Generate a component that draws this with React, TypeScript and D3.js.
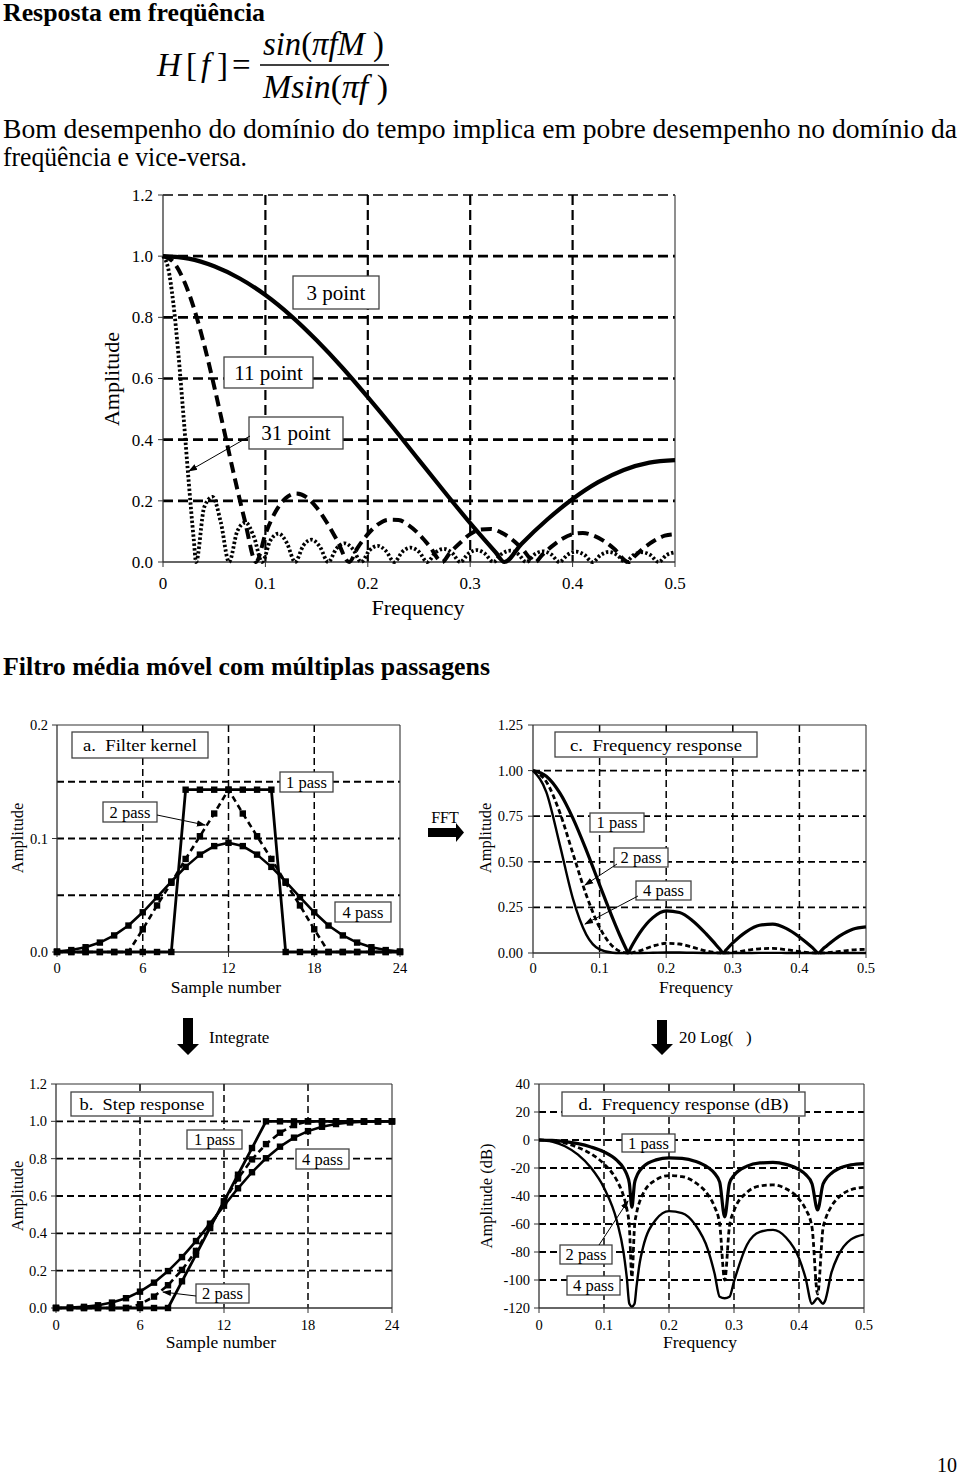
import React from 'react';
import * as d3 from 'd3';

const SERIF = "'Liberation Serif', 'Times New Roman', Times, serif";

// ---------- Top chart: moving average frequency response ----------
const topXTicks = [0, 0.1, 0.2, 0.3, 0.4, 0.5];
const topYTicks = [0, 0.2, 0.4, 0.6, 0.8, 1.0, 1.2];
const topXGrid = [0.1, 0.2, 0.3, 0.4];
const topYGrid = [0.2, 0.4, 0.6, 0.8, 1.0, 1.2];

const freq3 = [0, 0.025, 0.05, 0.075, 0.1, 0.125, 0.15, 0.175, 0.2, 0.225, 0.25, 0.275, 0.3, 0.325, 0.3333, 0.35, 0.375, 0.4, 0.425, 0.45, 0.475, 0.5];
const amp3 = [1, 0.992, 0.967, 0.927, 0.873, 0.805, 0.725, 0.636, 0.539, 0.438, 0.333, 0.229, 0.127, 0.031, 0, 0.059, 0.138, 0.206, 0.261, 0.301, 0.325, 0.333];

const freq11 = [0, 0.01, 0.02, 0.03, 0.04, 0.05, 0.06, 0.07, 0.08, 0.0909, 0.1, 0.11, 0.12, 0.13, 0.14, 0.15, 0.16, 0.17, 0.1818, 0.19, 0.2, 0.21, 0.22, 0.23, 0.24, 0.25, 0.26, 0.2727, 0.28, 0.29, 0.3, 0.31, 0.32, 0.33, 0.34, 0.35, 0.3636, 0.37, 0.38, 0.39, 0.4, 0.41, 0.42, 0.43, 0.44, 0.4545, 0.46, 0.47, 0.48, 0.49, 0.5];
const amp11 = [1, 0.981, 0.923, 0.832, 0.713, 0.574, 0.425, 0.275, 0.134, 0, 0.091, 0.165, 0.209, 0.224, 0.212, 0.178, 0.129, 0.071, 0, 0.046, 0.091, 0.123, 0.138, 0.137, 0.12, 0.091, 0.053, 0, 0.029, 0.062, 0.091, 0.106, 0.108, 0.097, 0.076, 0.046, 0, 0.022, 0.052, 0.076, 0.091, 0.095, 0.087, 0.07, 0.045, 0, 0.017, 0.047, 0.07, 0.086, 0.091];

const freq31 = [0, 0.005, 0.01, 0.015, 0.02, 0.025, 0.03, 0.0323,
  0.0403, 0.0484, 0.0565, 0.0645,
  0.0726, 0.0806, 0.0887, 0.0968,
  0.1048, 0.1129, 0.121, 0.129,
  0.1371, 0.1452, 0.1532, 0.1613,
  0.1694, 0.1774, 0.1855, 0.1935,
  0.2016, 0.2097, 0.2177, 0.2258,
  0.2339, 0.2419, 0.25, 0.2581,
  0.2661, 0.2742, 0.2823, 0.2903,
  0.2984, 0.3065, 0.3145, 0.3226,
  0.3306, 0.3387, 0.3468, 0.3548,
  0.3629, 0.371, 0.379, 0.3871,
  0.3952, 0.4032, 0.4113, 0.4194,
  0.4274, 0.4355, 0.4435, 0.4516,
  0.4597, 0.4677, 0.4758, 0.4839,
  0.4919, 0.5];
const amp31 = [1, 0.961, 0.849, 0.681, 0.478, 0.267, 0.075, 0,
  0.18, 0.213, 0.129, 0,
  0.101, 0.129, 0.083, 0,
  0.07, 0.093, 0.062, 0,
  0.054, 0.073, 0.05, 0,
  0.044, 0.061, 0.042, 0,
  0.038, 0.053, 0.036, 0,
  0.034, 0.047, 0.033, 0,
  0.031, 0.043, 0.03, 0,
  0.028, 0.039, 0.027, 0,
  0.026, 0.037, 0.026, 0,
  0.025, 0.035, 0.025, 0,
  0.024, 0.034, 0.024, 0,
  0.023, 0.033, 0.023, 0,
  0.023, 0.032, 0.023, 0,
  0.023, 0.032];

// ---------- a. Filter kernel / b. Step response ----------
const samples = [0, 1, 2, 3, 4, 5, 6, 7, 8, 9, 10, 11, 12, 13, 14, 15, 16, 17, 18, 19, 20, 21, 22, 23, 24];
const sampleTicks = [0, 6, 12, 18, 24];
const sampleGrid = [6, 12, 18];
const kernel1 = [0, 0, 0, 0, 0, 0, 0, 0, 0, 0.143, 0.143, 0.143, 0.143, 0.143, 0.143, 0.143, 0, 0, 0, 0, 0, 0, 0, 0, 0];
const kernel2 = [0, 0, 0, 0, 0, 0, 0.02, 0.041, 0.061, 0.082, 0.102, 0.122, 0.143, 0.122, 0.102, 0.082, 0.061, 0.041, 0.02, 0, 0, 0, 0, 0, 0];
const kernel4 = [0.0004, 0.0017, 0.0042, 0.0083, 0.0146, 0.0233, 0.035, 0.0483, 0.0621, 0.075, 0.0858, 0.0933, 0.0962, 0.0933, 0.0858, 0.075, 0.0621, 0.0483, 0.035, 0.0233, 0.0146, 0.0083, 0.0042, 0.0017, 0.0004];
const kernelYTicks = [0, 0.1, 0.2];
const kernelYGrid = [0.05, 0.1, 0.15];

const step1 = [0, 0, 0, 0, 0, 0, 0, 0, 0, 0.143, 0.286, 0.429, 0.571, 0.714, 0.857, 1, 1, 1, 1, 1, 1, 1, 1, 1, 1];
const step2 = [0, 0, 0, 0, 0, 0, 0.02, 0.061, 0.122, 0.204, 0.306, 0.429, 0.571, 0.694, 0.796, 0.878, 0.939, 0.98, 1, 1, 1, 1, 1, 1, 1];
const step4 = [0.0004, 0.0021, 0.0062, 0.0146, 0.0291, 0.0525, 0.0875, 0.1358, 0.1978, 0.2728, 0.3586, 0.4519, 0.5481, 0.6414, 0.7272, 0.8022, 0.8642, 0.9125, 0.9475, 0.9709, 0.9854, 0.9938, 0.9979, 0.9996, 1];
const stepYTicks = [0, 0.2, 0.4, 0.6, 0.8, 1.0, 1.2];
const stepYGrid = [0.2, 0.4, 0.6, 0.8, 1.0];

// ---------- c. Frequency response ----------
const freqTicks = [0, 0.1, 0.2, 0.3, 0.4, 0.5];
const freqGrid = [0.1, 0.2, 0.3, 0.4];
const freqC = [0, 0.02, 0.04, 0.06, 0.08, 0.1, 0.12, 0.13, 0.14, 0.1429, 0.146, 0.15, 0.16, 0.18, 0.2, 0.22, 0.24, 0.26, 0.27, 0.28, 0.2857, 0.29, 0.3, 0.32, 0.34, 0.36, 0.38, 0.4, 0.41, 0.42, 0.4286, 0.435, 0.44, 0.46, 0.48, 0.5];
const pass1 = [1, 0.969, 0.879, 0.738, 0.564, 0.374, 0.187, 0.1, 0.021, 0, 0.022, 0.049, 0.109, 0.194, 0.231, 0.222, 0.176, 0.105, 0.065, 0.023, 0, 0.017, 0.055, 0.116, 0.152, 0.158, 0.135, 0.088, 0.059, 0.028, 0, 0.021, 0.036, 0.092, 0.13, 0.143];
const pass2 = [1, 0.939, 0.773, 0.545, 0.318, 0.14, 0.035, 0.01, 0.0004, 0, 0.0005, 0.0024, 0.0119, 0.0376, 0.0534, 0.0493, 0.031, 0.011, 0.0042, 0.0005, 0, 0.0003, 0.003, 0.0135, 0.0231, 0.025, 0.0182, 0.0077, 0.0035, 0.0008, 0, 0.0004, 0.0013, 0.0085, 0.0169, 0.0204];
const pass4 = [1, 0.882, 0.597, 0.297, 0.101, 0.0196, 0.0012, 0.0001, 0, 0, 0, 0, 0.0001, 0.0014, 0.0029, 0.0024, 0.001, 0.0001, 0, 0, 0, 0, 0, 0.0002, 0.0005, 0.0006, 0.0003, 0.0001, 0, 0, 0, 0, 0, 0, 0.0001, 0.0002];
const respYTicks = [0, 0.25, 0.5, 0.75, 1.0, 1.25];
const respYGrid = [0.25, 0.5, 0.75, 1.0];

// ---------- d. Frequency response (dB) ----------
const freqD = [0, 0.02, 0.04, 0.06, 0.08, 0.1, 0.12, 0.13, 0.135, 0.139, 0.1429, 0.147, 0.15, 0.155, 0.16, 0.18, 0.2, 0.22, 0.24, 0.26, 0.27, 0.278, 0.2857, 0.293, 0.3, 0.32, 0.34, 0.36, 0.38, 0.4, 0.41, 0.42, 0.4286, 0.437, 0.44, 0.45, 0.46, 0.48, 0.5];
const db1 = [0, -0.3, -1.1, -2.6, -5.0, -8.5, -14.6, -20.0, -24.5, -30.9, -48, -30.7, -26.2, -21.9, -19.2, -14.2, -12.7, -13.1, -15.1, -19.6, -23.8, -30.1, -55, -30.9, -25.3, -18.7, -16.4, -16.0, -17.4, -21.1, -24.6, -31.2, -50, -31.4, -28.8, -23.7, -20.7, -17.8, -16.9];
const db2 = [0, -0.6, -2.2, -5.3, -9.9, -17.1, -29.1, -40.0, -49.0, -61.8, -98, -61.4, -52.4, -43.8, -38.4, -28.4, -25.4, -26.1, -30.2, -39.2, -47.6, -60.2, -100, -61.8, -50.6, -37.4, -32.8, -32.1, -34.8, -42.2, -49.2, -62.4, -110, -62.8, -57.6, -47.3, -41.4, -35.5, -33.8];
const db4 = [0, -1.1, -4.5, -10.5, -19.9, -34.2, -58.2, -80.0, -98.0, -117, -119, -117, -104.8, -87.5, -76.8, -56.8, -50.8, -52.2, -60.3, -78.4, -95.2, -112, -113, -112, -101, -74.8, -65.6, -64.2, -69.6, -84.4, -98.4, -117, -113, -117, -115, -94.6, -82.8, -71.0, -67.6];
const dbYTicks = [-120, -100, -80, -60, -40, -20, 0, 20, 40];
const dbYGrid = [-100, -80, -60, -40, -20, 0, 20];

type Series = {
  x: number[];
  y: number[];
  width: number;
  dash?: string;
  markers?: boolean;
  smooth?: boolean;
};

type ChartProps = {
  left: number; right: number; top: number; bottom: number;
  xDomain: [number, number]; yDomain: [number, number];
  xTicks: number[]; yTicks: number[];
  xFmt: (v: number) => string; yFmt: (v: number) => string;
  xGrid: number[]; yGrid: number[];
  gridW: number; gridWV: number; gridDash: string;
  tickFont: number; xTickY: number; yTickX: number;
  xTitle: string; xTitlePos: [number, number];
  yTitle: string; yTitlePos: [number, number];
  titleFont: number; yTitleFont: number;
  frameTop: boolean;
  series: Series[];
};

function Chart(p: ChartProps) {
  const xs = d3.scaleLinear().domain(p.xDomain).range([p.left, p.right]);
  const ys = d3.scaleLinear().domain(p.yDomain).range([p.bottom, p.top]);
  const frame = '#333';
  return (
    <g>
      {p.yGrid.map((v) => (
        <line key={'hy' + v} x1={p.left} x2={p.right} y1={ys(v)} y2={ys(v)} stroke="#000"
          strokeWidth={v === p.yDomain[1] ? 1.4 : p.gridW} strokeDasharray={p.gridDash} />
      ))}
      {p.xGrid.map((v) => (
        <line key={'vx' + v} x1={xs(v)} x2={xs(v)} y1={p.top} y2={p.bottom} stroke="#000"
          strokeWidth={p.gridWV} strokeDasharray={p.gridDash} />
      ))}
      <line x1={p.left} x2={p.left} y1={p.top} y2={p.bottom} stroke={frame} strokeWidth={1.3} />
      <line x1={p.right} x2={p.right} y1={p.top} y2={p.bottom} stroke={frame} strokeWidth={1.1} />
      <line x1={p.left} x2={p.right} y1={p.bottom} y2={p.bottom} stroke={frame} strokeWidth={1.3} />
      {p.frameTop && <line x1={p.left} x2={p.right} y1={p.top} y2={p.top} stroke={frame} strokeWidth={1.1} />}
      {p.yTicks.map((v) => (
        <g key={'yt' + v}>
          <line x1={p.left - 5} x2={p.left} y1={ys(v)} y2={ys(v)} stroke={frame} strokeWidth={1} />
          <text x={p.yTickX} y={ys(v)} dy="0.35em" textAnchor="end" fontSize={p.tickFont}>{p.yFmt(v)}</text>
        </g>
      ))}
      {p.xTicks.map((v) => (
        <g key={'xt' + v}>
          <line x1={xs(v)} x2={xs(v)} y1={p.bottom} y2={p.bottom + 5} stroke={frame} strokeWidth={1} />
          <text x={xs(v)} y={p.xTickY} dy="0.35em" textAnchor="middle" fontSize={p.tickFont}>{p.xFmt(v)}</text>
        </g>
      ))}
      <text x={p.xTitlePos[0]} y={p.xTitlePos[1]} dy="0.35em" textAnchor="middle" fontSize={p.titleFont}>{p.xTitle}</text>
      <text transform={`translate(${p.yTitlePos[0]},${p.yTitlePos[1]}) rotate(-90)`} dy="0.35em" textAnchor="middle" fontSize={p.yTitleFont}>{p.yTitle}</text>
      {p.series.map((s, si) => {
        const line = d3.line<number>()
          .x((_, i) => xs(s.x[i]))
          .y((d) => ys(d))
          .curve(s.smooth ? d3.curveMonotoneX : d3.curveLinear);
        return (
          <g key={'s' + si}>
            <path d={line(s.y) || ''} fill="none" stroke="#000" strokeWidth={s.width}
              strokeDasharray={s.dash} strokeLinejoin="round" />
            {s.markers && s.y.map((d, i) => (
              <rect key={i} x={xs(s.x[i]) - 3.2} y={ys(d) - 3.2} width={6.4} height={6.4} fill="#000" />
            ))}
          </g>
        );
      })}
    </g>
  );
}

function Box({ x, y, w, h, text, size, tl }: { x: number; y: number; w: number; h: number; text: string; size: number; tl?: number }) {
  return (
    <g>
      <rect x={x} y={y} width={w} height={h} fill="#fff" stroke="#444" strokeWidth={1.3} />
      <text x={x + w / 2} y={y + h / 2} dy="0.35em" textAnchor="middle" fontSize={size}
        textLength={tl} lengthAdjust={tl ? 'spacingAndGlyphs' : undefined}
        style={{ whiteSpace: 'pre' }}>{text}</text>
    </g>
  );
}

function Pointer({ x1, y1, x2, y2 }: { x1: number; y1: number; x2: number; y2: number }) {
  return <line x1={x1} y1={y1} x2={x2} y2={y2} stroke="#000" strokeWidth={1} markerEnd="url(#ah)" />;
}

const fmtFreq = (v: number) => (v === 0 ? '0' : v.toFixed(1));

export default function App() {
  const kSeries: Series[] = [
    { x: samples, y: kernel4, width: 2.6, markers: true },
    { x: samples, y: kernel2, width: 2.6, dash: '6,4', markers: true },
    { x: samples, y: kernel1, width: 2.8, markers: true },
  ];
  const sSeries: Series[] = [
    { x: samples, y: step4, width: 2.6, markers: true },
    { x: samples, y: step2, width: 2.6, dash: '6,4', markers: true },
    { x: samples, y: step1, width: 2.8, markers: true },
  ];
  return (
    <svg width={960} height={1475} style={{ position: 'absolute', left: 0, top: 0 }} fontFamily={SERIF}>
      <defs>
        <marker id="ah" viewBox="0 0 10 10" refX="9" refY="5" markerWidth="9" markerHeight="9" orient="auto">
          <path d="M0,1.5 L10,5 L0,8.5 z" fill="#000" />
        </marker>
      </defs>
      <rect x={0} y={0} width={960} height={1475} fill="#fff" />

      {/* Header texts */}
      <text x={3} y={21} fontSize={25} fontWeight="bold" textLength={262} lengthAdjust="spacingAndGlyphs">Resposta em freqüência</text>
      <text x={157} y={76} fontSize={33} fontStyle="italic">H</text>
      <text x={186} y={76} fontSize={33}>[</text>
      <text x={201} y={76} fontSize={33} fontStyle="italic">f</text>
      <text x={217} y={76} fontSize={33}>]</text>
      <text x={232} y={76} fontSize={33}>=</text>
      <text x={263} y={55} fontSize={33} textLength={121} lengthAdjust="spacingAndGlyphs">
        <tspan fontStyle="italic">sin</tspan><tspan>(</tspan><tspan fontStyle="italic">πfM</tspan><tspan> )</tspan>
      </text>
      <line x1={260} x2={389} y1={65} y2={65} stroke="#000" strokeWidth={1.5} />
      <text x={263} y={98} fontSize={33} textLength={125} lengthAdjust="spacingAndGlyphs">
        <tspan fontStyle="italic">Msin</tspan><tspan>(</tspan><tspan fontStyle="italic">πf</tspan><tspan> )</tspan>
      </text>
      <text x={3} y={138} fontSize={26.5} textLength={954} lengthAdjust="spacingAndGlyphs">Bom desempenho do domínio do tempo implica em pobre desempenho no domínio da</text>
      <text x={3} y={166} fontSize={26.5} textLength={244} lengthAdjust="spacingAndGlyphs">freqüência e vice-versa.</text>

      {/* Top chart */}
      <Chart left={163} right={675} top={195} bottom={562}
        xDomain={[0, 0.5]} yDomain={[0, 1.2]}
        xTicks={topXTicks} yTicks={topYTicks} xFmt={fmtFreq} yFmt={(v) => v.toFixed(1)}
        xGrid={topXGrid} yGrid={topYGrid} gridW={2.6} gridWV={2.2} gridDash="10,5"
        tickFont={17} xTickY={583} yTickX={153}
        xTitle="Frequency" xTitlePos={[418, 607]} titleFont={22}
        yTitle="Amplitude" yTitlePos={[111, 379]} yTitleFont={22}
        frameTop={false}
        series={[
          { x: freq31, y: amp31, width: 3.8, dash: '2.4,2.2', smooth: true },
          { x: freq11, y: amp11, width: 4, dash: '11,6', smooth: true },
          { x: freq3, y: amp3, width: 4.2, smooth: true },
        ]} />
      <Box x={293} y={276} w={86} h={33} text="3 point" size={21} />
      <Box x={224} y={357} w={89} h={31} text="11 point" size={21} />
      <Box x={249} y={417} w={94} h={32} text="31 point" size={21} />
      <Pointer x1={250} y1={436} x2={189} y2={471} />

      {/* Section heading */}
      <text x={3} y={675} fontSize={25} fontWeight="bold" textLength={487} lengthAdjust="spacingAndGlyphs">Filtro média móvel com múltiplas passagens</text>

      {/* a. Filter kernel */}
      <Chart left={57} right={400} top={725} bottom={952}
        xDomain={[0, 24]} yDomain={[0, 0.2]}
        xTicks={sampleTicks} yTicks={kernelYTicks} xFmt={(v) => String(v)} yFmt={(v) => v.toFixed(1)}
        xGrid={sampleGrid} yGrid={kernelYGrid} gridW={1.8} gridWV={1.5} gridDash="7,4"
        tickFont={14.5} xTickY={968} yTickX={48}
        xTitle="Sample number" xTitlePos={[226, 987]} titleFont={17.5}
        yTitle="Amplitude" yTitlePos={[17, 838]} yTitleFont={16.5}
        frameTop={true}
        series={kSeries} />
      <Box x={72} y={732} w={136} h={26} text="a.  Filter kernel" size={17.5} tl={114} />
      <Box x={280} y={772} w={53} h={20} text="1 pass" size={16.5} />
      <Box x={103} y={802} w={54} h={20} text="2 pass" size={16.5} />
      <Pointer x1={157} y1={815} x2={205} y2={825} />
      <Box x={335} y={902} w={56} h={20} text="4 pass" size={16.5} />

      {/* FFT arrow */}
      <text x={445} y={817} dy="0.35em" textAnchor="middle" fontSize={16}>FFT</text>
      <path d="M428,828 L456,828 L456,823 L464,832.5 L456,842 L456,837 L428,837 Z" fill="#000" />

      {/* c. Frequency response */}
      <Chart left={533} right={866} top={725} bottom={953}
        xDomain={[0, 0.5]} yDomain={[0, 1.25]}
        xTicks={freqTicks} yTicks={respYTicks} xFmt={fmtFreq} yFmt={(v) => v.toFixed(2)}
        xGrid={freqGrid} yGrid={respYGrid} gridW={1.8} gridWV={1.5} gridDash="7,4"
        tickFont={14.5} xTickY={968} yTickX={523}
        xTitle="Frequency" xTitlePos={[696, 987]} titleFont={17.5}
        yTitle="Amplitude" yTitlePos={[485, 838]} yTitleFont={16.5}
        frameTop={true}
        series={[
          { x: freqC, y: pass4, width: 2.4, smooth: true },
          { x: freqC, y: pass2, width: 2.8, dash: '5,3', smooth: true },
          { x: freqC, y: pass1, width: 3.2, smooth: true },
        ]} />
      <Box x={555} y={732} w={202} h={25} text="c.  Frequency response" size={17.5} tl={172} />
      <Box x={590} y={813} w={54} h={19} text="1 pass" size={16.5} />
      <Box x={614} y={848} w={54} h={19} text="2 pass" size={16.5} />
      <Pointer x1={617} y1={864} x2={585} y2={885} />
      <Box x={636} y={881} w={55} h={19} text="4 pass" size={16.5} />
      <Pointer x1={638} y1={896} x2={585} y2={924} />

      {/* Integrate & 20 Log arrows */}
      <path d="M183,1018 L193,1018 L193,1044 L199,1044 L188,1055 L177,1044 L183,1044 Z" fill="#000" />
      <text x={209} y={1037} dy="0.35em" fontSize={17}>Integrate</text>
      <path d="M657,1020 L667,1020 L667,1044 L673,1044 L662,1055 L651,1044 L657,1044 Z" fill="#000" />
      <text x={679} y={1037} dy="0.35em" fontSize={17} style={{ whiteSpace: 'pre' }}>20 Log(   )</text>

      {/* b. Step response */}
      <Chart left={56} right={392} top={1084} bottom={1308}
        xDomain={[0, 24]} yDomain={[0, 1.2]}
        xTicks={sampleTicks} yTicks={stepYTicks} xFmt={(v) => String(v)} yFmt={(v) => v.toFixed(1)}
        xGrid={sampleGrid} yGrid={stepYGrid} gridW={1.8} gridWV={1.5} gridDash="7,4"
        tickFont={14.5} xTickY={1325} yTickX={47}
        xTitle="Sample number" xTitlePos={[221, 1342]} titleFont={17.5}
        yTitle="Amplitude" yTitlePos={[17, 1196]} yTitleFont={16.5}
        frameTop={true}
        series={sSeries} />
      <Box x={71} y={1092} w={142} h={24} text="b.  Step response" size={17.5} tl={125} />
      <Box x={187} y={1130} w={55} h={19} text="1 pass" size={16.5} />
      <Box x={296} y={1149} w={53} h={20} text="4 pass" size={16.5} />
      <Box x={196} y={1284} w={53} h={19} text="2 pass" size={16.5} />
      <Pointer x1={196} y1={1296} x2={163} y2={1292} />

      {/* d. Frequency response (dB) */}
      <Chart left={539} right={864} top={1084} bottom={1308}
        xDomain={[0, 0.5]} yDomain={[-120, 40]}
        xTicks={freqTicks} yTicks={dbYTicks} xFmt={fmtFreq} yFmt={(v) => String(v)}
        xGrid={freqGrid} yGrid={dbYGrid} gridW={1.8} gridWV={1.5} gridDash="7,4"
        tickFont={14.5} xTickY={1325} yTickX={530}
        xTitle="Frequency" xTitlePos={[700, 1342]} titleFont={17.5}
        yTitle="Amplitude (dB)" yTitlePos={[486, 1196]} yTitleFont={16.5}
        frameTop={true}
        series={[
          { x: freqD, y: db4, width: 2.4, smooth: true },
          { x: freqD, y: db2, width: 2.8, dash: '5,3', smooth: true },
          { x: freqD, y: db1, width: 3.2, smooth: true },
        ]} />
      <Box x={562} y={1092} w={243} h={24} text="d.  Frequency response (dB)" size={17.5} tl={210} />
      <Box x={622} y={1134} w={53} h={18} text="1 pass" size={16.5} />
      <Box x={560} y={1245} w={52} h={19} text="2 pass" size={16.5} />
      <Pointer x1={599} y1={1245} x2={628} y2={1201} />
      <Box x={567} y={1276} w={53} h={19} text="4 pass" size={16.5} />

      {/* Page number */}
      <text x={957} y={1472} textAnchor="end" fontSize={20}>10</text>
    </svg>
  );
}
